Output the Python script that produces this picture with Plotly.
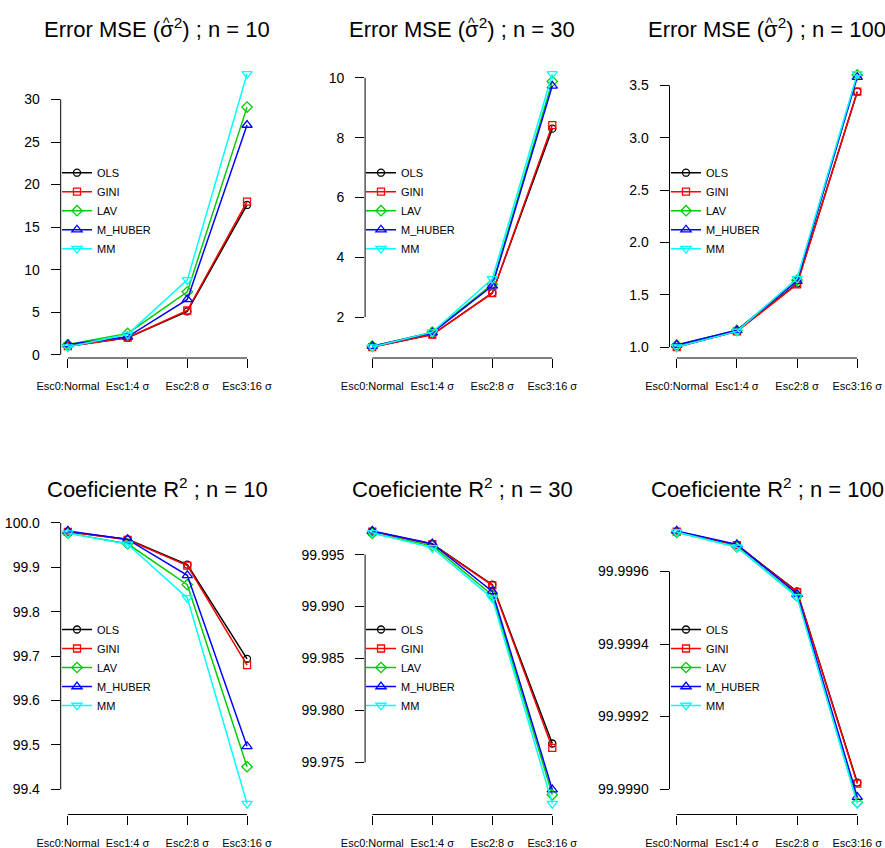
import plotly.graph_objects as go

# ---------------- data ----------------
scenarios = ["Esc0:Normal", "Esc1:4 σ", "Esc2:8 σ", "Esc3:16 σ"]
methods = ["OLS", "GINI", "LAV", "M_HUBER", "MM"]

mse_n10 = {
    "OLS": [1.0, 2.0, 5.1, 17.6],
    "GINI": [1.0, 2.0, 5.2, 18.0],
    "LAV": [1.2, 2.5, 7.4, 29.1],
    "M_HUBER": [1.2, 2.1, 6.5, 27.0],
    "MM": [0.9, 2.4, 8.8, 33.0],
}
mse_n30 = {
    "OLS": [1.0, 1.42, 2.81, 8.30],
    "GINI": [1.0, 1.42, 2.80, 8.42],
    "LAV": [1.03, 1.50, 3.10, 9.88],
    "M_HUBER": [1.03, 1.48, 3.05, 9.73],
    "MM": [1.0, 1.50, 3.28, 10.13],
}
mse_n100 = {
    "OLS": [1.00, 1.15, 1.607, 3.44],
    "GINI": [1.00, 1.15, 1.600, 3.44],
    "LAV": [1.02, 1.16, 1.640, 3.60],
    "M_HUBER": [1.02, 1.16, 1.630, 3.58],
    "MM": [1.00, 1.15, 1.655, 3.61],
}
r2_n10 = {
    "OLS": [99.980, 99.963, 99.906, 99.694],
    "GINI": [99.980, 99.962, 99.904, 99.680],
    "LAV": [99.977, 99.953, 99.861, 99.451],
    "M_HUBER": [99.982, 99.963, 99.882, 99.497],
    "MM": [99.977, 99.952, 99.831, 99.368],
}
r2_n30 = {
    "OLS": [99.99722, 99.99602, 99.99210, 99.97683],
    "GINI": [99.99722, 99.99600, 99.99205, 99.97640],
    "LAV": [99.99705, 99.99585, 99.99110, 99.97190],
    "M_HUBER": [99.99728, 99.99605, 99.99146, 99.97240],
    "MM": [99.99710, 99.99565, 99.99080, 99.97105],
}
r2_n100 = {
    "OLS": [99.999710, 99.999673, 99.999545, 99.999018],
    "GINI": [99.999710, 99.999673, 99.999543, 99.999015],
    "LAV": [99.999708, 99.999668, 99.999532, 99.998963],
    "M_HUBER": [99.999712, 99.999675, 99.999538, 99.998978],
    "MM": [99.999709, 99.999667, 99.999530, 99.998960],
}

ticks_mse_n10 = [0, 5, 10, 15, 20, 25, 30]
ticks_mse_n30 = [2, 4, 6, 8, 10]
ticks_mse_n100 = [1.0, 1.5, 2.0, 2.5, 3.0, 3.5]
ticks_r2_n10 = [99.4, 99.5, 99.6, 99.7, 99.8, 99.9, 100.0]
ticks_r2_n30 = [99.975, 99.980, 99.985, 99.990, 99.995]
ticks_r2_n100 = [99.9990, 99.9992, 99.9994, 99.9996]

sample_sizes = ["10", "30", "100"]

# ---------------- styling ----------------
colors = {"OLS": "#000000", "GINI": "#FF0000", "LAV": "#00CD00",
          "M_HUBER": "#0000FF", "MM": "#00FFFF"}
symbols = {"OLS": "circle-open", "GINI": "square-open", "LAV": "diamond-open",
           "M_HUBER": "triangle-up-open", "MM": "triangle-down-open"}
msize = {"OLS": 7, "GINI": 7, "LAV": 8, "M_HUBER": 9, "MM": 9}

W, H = 885, 848
TITLE_SIZE = 22
panels = [
    (mse_n10, ticks_mse_n10, "d"),
    (mse_n30, ticks_mse_n30, "d"),
    (mse_n100, ticks_mse_n100, ".1f"),
    (r2_n10, ticks_r2_n10, ".1f"),
    (r2_n30, ticks_r2_n30, ".3f"),
    (r2_n100, ticks_r2_n100, ".4f"),
]
cols_px = [(60.7, 254.2), (365.1, 559.5), (669.5, 864.5)]
rows_px = [(63.0, 358.0), (520.0, 814.5)]
title_bottom_px = [44.0, 504.0]
hat_mid_px = 23.0
legend_mid_px = [210.7, 667.5]
legend_left_px = [57.0, 361.0, 666.0]

font_family = "Liberation Sans, Arial, Helvetica, sans-serif"

# approximate advance widths (em) used only to centre the hat over sigma
adv = {"E": .667, "r": .333, "o": .556, " ": .278, "M": .833, "S": .667,
       "(": .333, ")": .333, ";": .278, "n": .556, "=": .584, "σ": .60}
def text_em(s):
    return sum(adv.get(ch, .556) for ch in s)

fig = go.Figure()
layout = dict(
    width=W, height=H,
    margin=dict(l=0, r=0, t=0, b=0),
    paper_bgcolor="white", plot_bgcolor="white",
    font=dict(family=font_family, color="black"),
    annotations=[], shapes=[],
)

for i, (data, yticks, fmt) in enumerate(panels):
    r, c = divmod(i, 3)
    k = i + 1
    xa = "xaxis" if k == 1 else f"xaxis{k}"
    ya = "yaxis" if k == 1 else f"yaxis{k}"
    xref = "x" if k == 1 else f"x{k}"
    yref = "y" if k == 1 else f"y{k}"
    leg = "legend" if k == 1 else f"legend{k}"

    allv = [v for m in methods for v in data[m]]
    lo, hi = min(allv), max(allv)
    pad = 0.04 * (hi - lo)
    xs = list(range(1, len(scenarios) + 1))

    for m in methods:
        fig.add_trace(go.Scatter(
            x=xs, y=data[m], name=m, mode="lines+markers",
            line=dict(color=colors[m], width=1.5),
            marker=dict(symbol=symbols[m], size=msize[m], color=colors[m],
                        line=dict(width=1.3, color=colors[m])),
            xaxis=xref, yaxis=yref, legend=leg,
        ))

    x0, x1 = cols_px[c]
    t0, b0 = rows_px[r]
    layout[xa] = dict(
        domain=[x0 / W, x1 / W], anchor=yref,
        range=[1 - 0.04 * 3, len(scenarios) + 0.04 * 3],
        tickmode="array", tickvals=xs, ticktext=scenarios,
        ticks="outside", ticklen=9, tickwidth=1, tickcolor="black",
        showline=False, showgrid=False, zeroline=False,
        tickfont=dict(size=11, color="black"), ticklabelstandoff=9,
        automargin=False,
    )
    layout[ya] = dict(
        domain=[1 - b0 / H, 1 - t0 / H], anchor=xref,
        range=[lo - pad, hi + pad],
        tickmode="array", tickvals=yticks, tickformat=fmt,
        ticks="outside", ticklen=9, tickwidth=1, tickcolor="black",
        showline=False, showgrid=False, zeroline=False,
        tickfont=dict(size=14, color="black"), ticklabelstandoff=8,
        automargin=False,
    )
    layout["shapes"].append(dict(
        type="line", xref=f"{xref} domain", yref=yref,
        x0=0, x1=0, y0=yticks[0], y1=yticks[-1],
        line=dict(color="black", width=1)))
    layout["shapes"].append(dict(
        type="line", xref=xref, yref=f"{yref} domain",
        x0=xs[0], x1=xs[-1], y0=0, y1=0,
        line=dict(color="black", width=1)))

    cx = (x0 + x1) / 2
    n = sample_sizes[c]
    if r == 0:
        title = f"Error MSE (σ<sup>2</sup>) ; n = {n}"
        left = "Error MSE ("
        total = text_em(left) + adv["σ"] + 0.389 + text_em(f") ; n = {n}")
        sig_c = text_em(left) + adv["σ"] / 2
        off = (sig_c - total / 2) * TITLE_SIZE - 1.0
        layout["annotations"].append(dict(
            text="^", xref="paper", yref="paper",
            x=(cx + off) / W, y=1 - hat_mid_px / H,
            xanchor="center", yanchor="middle", showarrow=False,
            font=dict(size=14, color="black", family=font_family)))
    else:
        title = f"Coeficiente R<sup>2</sup> ; n = {n}"
    layout["annotations"].append(dict(
        text=title, xref="paper", yref="paper",
        x=cx / W, y=1 - title_bottom_px[r] / H,
        xanchor="center", yanchor="bottom", showarrow=False,
        font=dict(size=TITLE_SIZE, color="black", family=font_family)))
    layout[leg] = dict(
        x=legend_left_px[c] / W, y=1 - legend_mid_px[r] / H,
        xanchor="left", yanchor="middle",
        bgcolor="rgba(0,0,0,0)", borderwidth=0,
        font=dict(size=11, color="black", family=font_family),
        tracegroupgap=0,
    )

fig.update_layout(**layout)
fig.write_html(
    "out.html",
    config={"displayModeBar": False},
    post_script="document.body.style.margin='0px';"
                "document.documentElement.style.overflow='hidden';",
)
